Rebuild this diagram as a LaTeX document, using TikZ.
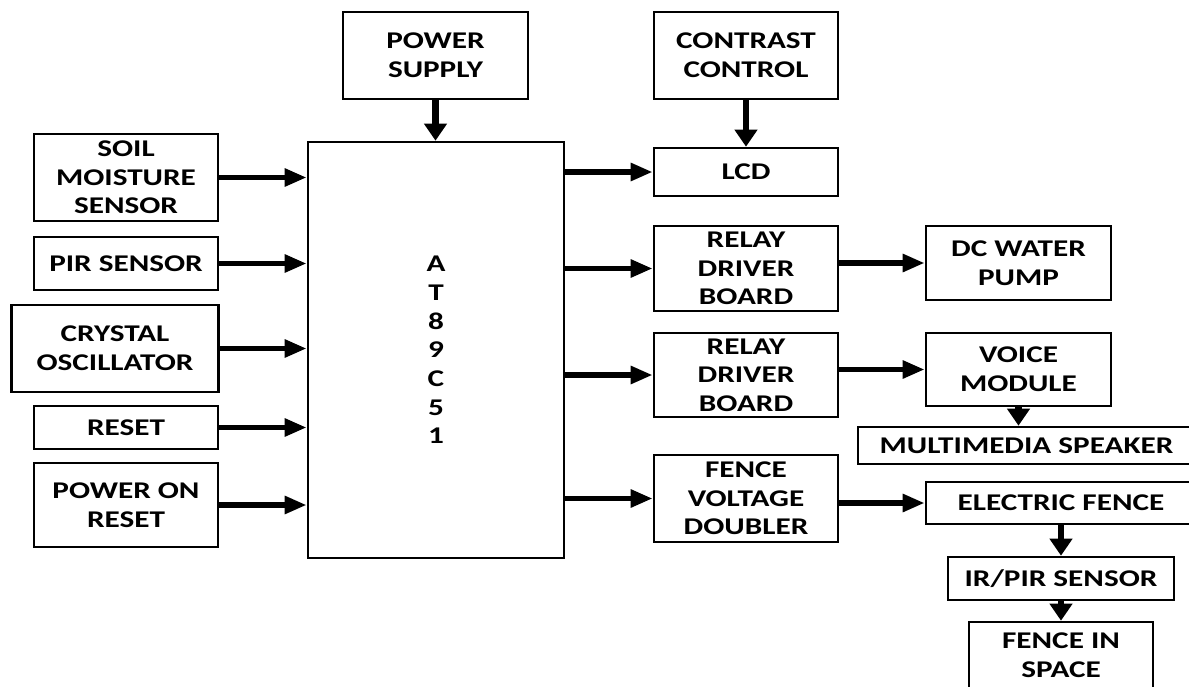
\documentclass[tikz,border=0pt]{standalone}
\usepackage{fontspec}
\newfontfamily\boxfont{Carlito}[FakeStretch=1.3]
\usepackage{tikz}
\usetikzlibrary{arrows.meta}

\begin{document}
\begin{tikzpicture}[
    x=0.5pt,y=-0.5pt,
    box/.style={draw,line width=1.3pt,align=center,inner sep=0pt,font=\boxfont\bfseries\fontsize{12}{14.3}\selectfont},
    side/.style={box,minimum width=92pt,minimum height=43.5pt},
    arrow/.style={-{Triangle[length=11pt,width=8.5pt]},line width=2.8pt},
    darrow/.style={-{Triangle[length=8.5pt,width=11pt]},line width=3.2pt}
  ]
    \clip (0,0) rectangle (1189,686);

    % inputs
    \node[box,minimum width=92.5pt,minimum height=43.5pt] (psu) at (435.5,55.5) {POWER\\SUPPLY};
    \node[side] (soil) at (126,177.5) {SOIL\\MOISTURE\\SENSOR};
    \node[side,minimum height=26.5pt] (pir) at (126,263.5) {PIR SENSOR};
    \node[side,minimum width=103.5pt] (xtal) at (115,348.5) {CRYSTAL\\OSCILLATOR};
    \node[side,minimum height=21.5pt] (rst) at (126,427.5) {RESET};
    \node[side,minimum height=42pt] (por) at (126,505) {POWER ON\\RESET};

    % controller
    \node[box,minimum width=128pt,minimum height=208pt,font=\boxfont\bfseries\fontsize{12}{14.35}\selectfont] (mcu) at (436,350) {A\\T\\8\\9\\C\\5\\1};

    % outputs
    \node[side] (cc) at (746,55.5) {CONTRAST\\CONTROL};
    \node[side,minimum height=24pt] (lcd) at (746,172) {LCD};
    \node[side,minimum height=42.5pt] (rly1) at (746,268.5) {RELAY\\DRIVER\\BOARD};
    \node[side,minimum height=42pt] (rly2) at (746,375) {RELAY\\DRIVER\\BOARD};
    \node[side] (fvd) at (746,498.5) {FENCE\\VOLTAGE\\DOUBLER};

    \node[side,minimum width=92.5pt,minimum height=37pt] (pump) at (1018.5,263) {DC WATER\\PUMP};
    \node[side,minimum width=92.5pt,minimum height=36.5pt] (voice) at (1018.5,369.5) {VOICE\\MODULE};
    \node[box,minimum width=168.5pt,minimum height=18.5pt] (spk) at (1026.5,445.5) {MULTIMEDIA SPEAKER};
    \node[box,minimum width=135pt,minimum height=21pt] (fence) at (1061,503) {ELECTRIC FENCE};
    \node[box,minimum width=113pt,minimum height=21.5pt] (irpir) at (1061,578.5) {IR/PIR SENSOR};
    \node[box,minimum width=92pt,minimum height=33pt] (space) at (1061,655) {FENCE IN\\SPACE};

    % into the controller
    \draw[darrow] (psu) -- (psu |- mcu.north);
    \foreach \n in {soil,pir,xtal,rst,por}
      \draw[arrow] (\n) -- (\n -| mcu.west);

    % out of the controller
    \foreach \n in {lcd,rly1,rly2,fvd}
      \draw[arrow] (\n -| mcu.east) -- (\n);
    \draw[darrow] (cc) -- (lcd);

    \draw[arrow] (rly1.east |- pump) -- (pump);
    \draw[arrow] (rly2.east |- voice) -- (voice);
    \draw[arrow] (fvd.east |- fence) -- (fence);

    \draw[darrow] (voice) -- (voice |- spk.north);
    \draw[darrow] (fence) -- (irpir);
    \draw[darrow] (irpir) -- (space);
  \end{tikzpicture}
\end{document}
